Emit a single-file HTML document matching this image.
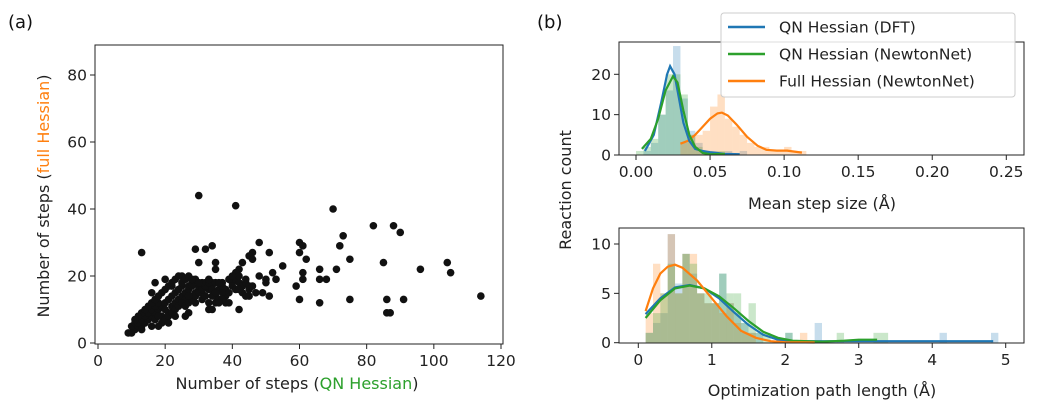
<!DOCTYPE html>
<html><head><meta charset="utf-8"><style>
body{margin:0;background:#fff;}
svg{display:block;font-family:"DejaVu Sans","Liberation Sans",sans-serif;}
</style></head><body>
<svg id="c" width="1037" height="404" viewBox="0 0 1037 404"></svg>
<script>
// ---- data: scatter (a)
const scatterX = [30,41,70,82,88,90,13,29,32,34,30,35,35,48,46,45,46,51,43,42,41,55,52,48,50,53,50,49,51,60,61,60,62,61,61,59,60,66,66,68,66,72,73,75,71,75,85,86,86,87,91,96,104,105,114,42,25,20,17,22,16,26,27,33,34,
9,10,11,10,11,12,13,12,14,13,15,14,16,15,17,16,18,17,19,18,20,19,21,20,22,21,23,22,24,23,25,24,26,25,27,26,28,27,29,28,30,29,31,30,32,31,33,32,34,33,35,34,36,35,37,36,38,37,39,38,40,39,41,40,42,41,43,42,44,43,45,44,46,45,47,13,14,15,16,17,18,19,20,21,22,23,24,25,26,27,28,17,18,19,20,21,22,23,24,25,26,27,28,29,30,31,32,33,34,35,36,37,38,39,16,12,11,13,23,18,21,31,33,29,30,28,27,34,35,40,42,37,36,44,45];
const scatterY = [44,41,40,35,35,33,27,28,28,29,24,24,22,30,27,26,25,27,24,22,21,23,21,20,19,19,18,15,14,30,29,27,25,21,19,17,13,22,19,19,12,29,32,25,22,13,24,13,9,9,13,22,24,21,14,10,20,19,18,17,15,8,9,10,10,
3,3,4,5,6,5,5,6,6,7,7,8,8,9,9,10,10,11,11,12,12,8,9,10,11,13,12,14,13,15,14,16,15,17,16,13,14,17,15,18,16,12,13,17,18,15,16,14,17,12,14,18,16,12,17,13,14,18,19,16,18,15,19,17,18,16,17,20,18,15,16,19,17,14,15,9,10,11,12,13,14,15,16,17,18,19,20,18,19,20,17,7,8,6,7,8,9,10,11,12,11,12,13,14,15,16,17,18,16,18,18,15,12,12,5,8,7,4,8,5,6,18,19,19,18,19,14,14,15,20,16,13,12,14,17];
const scatterXTicks = [0,20,40,60,80,100,120];
const scatterYTicks = [0,20,40,60,80];
// ---- top histogram (mean step size), bins of 0.005
const stepBinW = 0.005;
const stepBlueStart = 0.005, stepBlue = [1,3,10,16,27,14,6,3,1,1,0,1,0,1];
const stepGreenStart = 0.0, stepGreen = [1,2,4,10,20,20,15,5,2,1,0,1];
const stepOrangeStart = 0.03, stepOrange = [3,5,5,6,12,15,9,7,5,3,2,2,1,1,2,1,1];
const kdeStepBlueX = [0.006,0.012,0.017,0.021,0.023,0.026,0.029,0.032,0.036,0.040,0.045,0.05,0.06,0.07];
const kdeStepBlueY = [1,5,13,20,22,20,14,8,3.5,1.5,1,0.7,0.3,0.2];
const kdeStepGreenX = [0.004,0.01,0.015,0.02,0.025,0.028,0.032,0.036,0.04,0.045,0.05,0.06];
const kdeStepGreenY = [1.5,4,9,16,19.5,18,11,5,2,0.5,0.2,0.3];
const kdeStepOrangeX = [0.03,0.035,0.04,0.045,0.05,0.055,0.058,0.062,0.068,0.075,0.082,0.088,0.095,0.102,0.112];
const kdeStepOrangeY = [2.8,3.5,5,7,9,10.3,10.5,9.8,7.5,4.5,2.3,1.3,1.1,1.1,0.6];
const stepXTicks = [0,0.05,0.10,0.15,0.20,0.25];
const stepXLabels = ["0.00","0.05","0.10","0.15","0.20","0.25"];
const stepYTicks = [0,10,20];
// ---- bottom histogram (path length), bins of 0.1 starting at 0.1
const pathBinW = 0.1, pathStart = 0.1;
const pathBlue = [1,2,3,11,6,9,7,5,4,4,7,4,3,2,1,1,0,0,0,1,0,0,0,2,0,0,0,0,0,0,0,0,0,0,0,0,0,0,0,0,1,0,0,0,0,0,0,1];
const pathOrange = [3,8,5,11,5,9,9,5,4,4,3,4,2,1,1,0,0,0,0,0,0,1];
const pathGreen = [1,3,5,8,5,9,8,5,5,4,7,5,5,2,4,1,1,0,0,1,0,0,0,0,0,0,1,0,0,0,0,1,1];
const kdePathOrangeX = [0.1,0.2,0.3,0.4,0.5,0.6,0.8,1.0,1.2,1.4,1.6,1.8,2.0,2.4];
const kdePathOrangeY = [3.2,5.5,7,7.7,7.9,7.6,6.3,4.5,2.7,1.2,0.5,0.15,0.05,0.02];
const kdePathBlueX = [0.1,0.3,0.5,0.7,0.9,1.1,1.3,1.5,1.7,1.9,2.1,2.5,3,4,4.83];
const kdePathBlueY = [2.9,4.5,5.6,5.85,5.5,4.5,3.1,1.8,0.8,0.3,0.15,0.15,0.15,0.15,0.15];
const kdePathGreenX = [0.1,0.3,0.5,0.7,0.9,1.1,1.3,1.5,1.7,1.9,2.1,2.5,2.8,3.0,3.25];
const kdePathGreenY = [2.5,4.3,5.5,5.8,5.5,4.7,3.5,2.2,1.1,0.5,0.2,0.1,0.2,0.3,0.3];
const pathXTicks = [0,1,2,3,4,5];
const pathYTicks = [0,5,10];

const NS="http://www.w3.org/2000/svg", svg=document.getElementById('c');
function mk(tag,attrs,parent){const e=document.createElementNS(NS,tag);for(const k in attrs)e.setAttribute(k,attrs[k]);(parent||svg).appendChild(e);return e;}
function lin(d0,d1,r0,r1){return v=>r0+(v-d0)*(r1-r0)/(d1-d0);}
const BLUE="#1f77b4",ORANGE="#ff7f0e",GREEN="#2ca02c";
const TF=15.5, LF=16;

let t=mk('text',{x:8,y:28,'font-size':18,fill:'#111'});t.textContent='(a)';


t=mk('text',{x:537,y:28,'font-size':18,fill:'#111'});t.textContent='(b)';



function axesFrame(x0,y0,x1,y1,name){
  const r=mk('rect',{x:x0,y:y0,width:x1-x0,height:y1-y0,fill:'none',stroke:'#222','stroke-width':1});
  
  
}
function xTicks(ticks,labels,sx,yb,name){
  ticks.forEach((v,i)=>{const x=sx(v);mk('line',{x1:x,x2:x,y1:yb,y2:yb+5,stroke:'#222'});
    const tt=mk('text',{x:x,y:yb+22,'font-size':TF,'text-anchor':'middle',fill:'#222'});tt.textContent=labels[i];
    
    });
}
function yTicks(ticks,sy,xl,name){
  ticks.forEach(v=>{const y=sy(v);mk('line',{x1:xl-5,x2:xl,y1:y,y2:y,stroke:'#222'});
    const tt=mk('text',{x:xl-8,y:y+5.5,'font-size':TF,'text-anchor':'end',fill:'#222'});tt.textContent=String(v);
    
    });
}
function pathFrom(xs,ys,sx,sy){return xs.map((x,i)=>(i?'L':'M')+sx(x).toFixed(1)+' '+sy(ys[i]).toFixed(1)).join(' ');}

{
  const sx=lin(0,120,98,501), sy=lin(0,80,343,75);
  axesFrame(95,45,503,344,'scatter-axes');
  xTicks(scatterXTicks,scatterXTicks.map(String),sx,344,'scatter-x');
  yTicks(scatterYTicks,sy,95,'scatter-y');
  scatterX.forEach((v,i)=>{const c=mk('circle',{cx:sx(v),cy:sy(scatterY[i]),r:3.8,fill:'#111'});
    
    });
  let xt=mk('text',{x:297,y:389,'font-size':LF,'text-anchor':'middle',fill:'#222'});
  xt.innerHTML='Number of steps (<tspan fill="#2ca02c">QN Hessian</tspan>)';
  
  
  let yt=mk('text',{x:0,y:0,'font-size':LF,'text-anchor':'middle',fill:'#222',transform:'translate(49,196) rotate(-90)'});
  yt.innerHTML='Number of steps (<tspan fill="#ff7f0e">full Hessian</tspan>)';
  
  
}
function hist(vals,start,w,sx,sy,color,name){
  vals.forEach((v,i)=>{if(!v)return;const x0=sx(start+i*w),x1=sx(start+(i+1)*w);
    const r=mk('rect',{x:x0,y:sy(v),width:x1-x0,height:sy(0)-sy(v),fill:color,'fill-opacity':0.25});
    
    });
}
{
  const sx=lin(0,0.25,636,1006.3), sy=lin(0,20,155,74.3);
  hist(stepBlue,stepBlueStart,stepBinW,sx,sy,BLUE,'step-hist-bar-dft');
  hist(stepGreen,stepGreenStart,stepBinW,sx,sy,GREEN,'step-hist-bar-qn-nn');
  hist(stepOrange,stepOrangeStart,stepBinW,sx,sy,ORANGE,'step-hist-bar-full-nn');
  [[kdeStepOrangeX,kdeStepOrangeY,ORANGE,'step-kde-full-nn'],[kdeStepBlueX,kdeStepBlueY,BLUE,'step-kde-dft'],[kdeStepGreenX,kdeStepGreenY,GREEN,'step-kde-qn-nn']].forEach(s=>{
    const p=mk('path',{d:pathFrom(s[0],s[1],sx,sy),fill:'none',stroke:s[2],'stroke-width':2.2});
    
    });
  axesFrame(619,42,1024,155,'step-axes');
  xTicks(stepXTicks,stepXLabels,sx,155,'step-x');
  yTicks(stepYTicks,sy,619,'step-y');
  let xt=mk('text',{x:822,y:209,'font-size':LF,'text-anchor':'middle',fill:'#222'});xt.textContent='Mean step size (Å)';
  
  
}
{
  const sx=lin(0,5,638.3,1005.7), sy=lin(0,10,342.7,244);
  hist(pathBlue,pathStart,pathBinW,sx,sy,BLUE,'path-hist-bar-dft');
  hist(pathOrange,pathStart,pathBinW,sx,sy,ORANGE,'path-hist-bar-full-nn');
  hist(pathGreen,pathStart,pathBinW,sx,sy,GREEN,'path-hist-bar-qn-nn');
  [[kdePathBlueX,kdePathBlueY,BLUE,'path-kde-dft'],[kdePathGreenX,kdePathGreenY,GREEN,'path-kde-qn-nn'],[kdePathOrangeX,kdePathOrangeY,ORANGE,'path-kde-full-nn']].forEach(s=>{
    const p=mk('path',{d:pathFrom(s[0],s[1],sx,sy),fill:'none',stroke:s[2],'stroke-width':2.2});
    
    });
  axesFrame(619,228,1024,343,'path-axes');
  xTicks(pathXTicks,pathXTicks.map(String),sx,343,'path-x');
  yTicks(pathYTicks,sy,619,'path-y');
  let xt=mk('text',{x:822,y:396,'font-size':LF,'text-anchor':'middle',fill:'#222'});xt.textContent='Optimization path length (Å)';
  
  
}
{
  let yt=mk('text',{x:0,y:0,'font-size':LF,'text-anchor':'middle',fill:'#222',transform:'translate(571,190) rotate(-90)'});
  yt.textContent='Reaction count';
  
  
}
{
  const g=mk('g',{});
  
  
  mk('rect',{x:721,y:13,width:294,height:84,rx:3,fill:'#fff','fill-opacity':0.85,stroke:'#ccc'},g);
  [['QN Hessian (DFT)',BLUE,27],['QN Hessian (NewtonNet)',GREEN,54],['Full Hessian (NewtonNet)',ORANGE,81]].forEach(e=>{
    const ge=mk('g',{},g);
    
    
    mk('line',{x1:728,x2:765,y1:e[2],y2:e[2],stroke:e[1],'stroke-width':2.5},ge);
    const tt=mk('text',{x:779,y:e[2]+5.5,'font-size':15.5,fill:'#222'},ge);tt.textContent=e[0];
  });
}
</script>
</body></html>
